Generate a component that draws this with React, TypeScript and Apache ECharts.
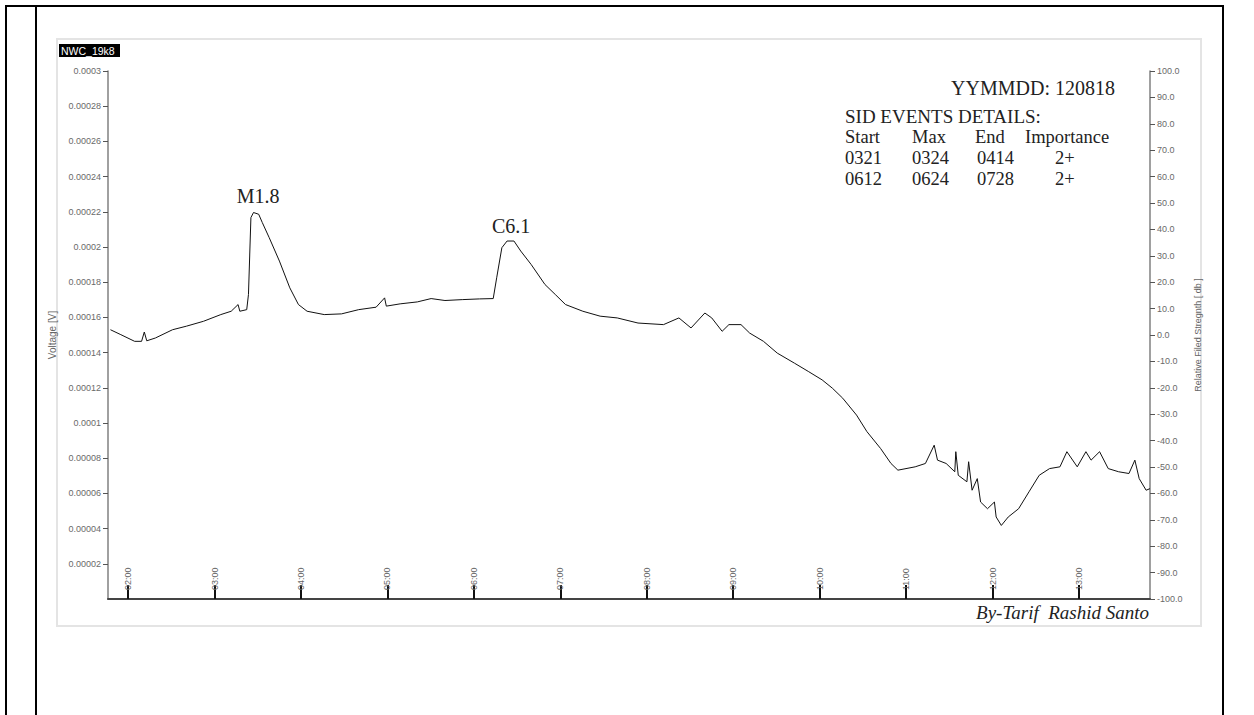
import React, { useEffect, useRef } from "react";
import * as echarts from "echarts";

// time of day in minutes after 00:00 (UT)
const timeMinutes = [
  107.7, 114.9, 124.5, 129.3, 131.2, 132.9, 138.9, 150.8, 160.4, 172.3,
  184.3, 191.5, 196.3, 197.5, 202.3, 203.5, 205.2, 207.0, 210.6, 213.1,
  217.9, 225.0, 232.2, 238.2, 244.2, 256.1, 268.1, 280.0, 292.1, 298.0,
  299.2, 308.8, 320.7, 330.3, 339.9, 351.9, 363.8, 373.4, 375.8, 379.4,
  383.0, 387.8, 392.5, 399.7, 409.3, 416.5, 423.6, 435.6, 447.6, 459.5,
  473.9, 491.6, 502.3, 510.7, 520.3, 525.1, 532.3, 537.0, 545.4, 551.4,
  561.0, 570.6, 582.5, 592.1, 601.7, 608.8, 616.0, 625.6, 632.8, 642.3,
  649.5, 654.3, 666.3, 673.4, 679.5, 681.8, 687.8, 693.8, 694.5, 696.2,
  702.2, 703.4, 705.8, 709.4, 711.7, 716.5, 721.3, 722.5, 726.1, 730.9,
  738.1, 745.3, 752.4, 759.6, 766.8, 771.6, 778.8, 784.8, 788.4, 794.3,
  800.3, 807.5, 814.7, 818.8, 821.8, 826.6, 829.3,
];

// signal voltage in microvolts
const voltageMicroV = [
  153.0, 150.2, 146.4, 146.4, 151.7, 146.7, 148.3, 153.0, 155.0, 157.8,
  161.6, 163.5, 167.3, 163.5, 164.4, 173.0, 216.7, 219.6, 218.6, 213.9,
  205.3, 192.0, 176.8, 167.3, 163.5, 161.6, 162.0, 164.4, 165.8, 171.1,
  166.4, 167.7, 168.8, 170.7, 169.6, 170.1, 170.5, 170.7, 182.5, 199.6,
  203.4, 203.4, 197.7, 190.1, 178.7, 173.0, 167.3, 163.5, 160.7, 159.7,
  156.8, 155.9, 159.7, 154.0, 162.5, 159.7, 152.1, 155.9, 155.9, 151.1,
  146.4, 139.7, 134.0, 129.3, 124.5, 119.8, 114.1, 104.5, 95.1, 85.5,
  77.0, 73.2, 75.1, 77.0, 87.4, 78.9, 77.0, 72.3, 83.7, 70.3,
  66.6, 78.0, 61.8, 68.4, 55.1, 51.3, 55.1, 46.6, 41.8, 46.6,
  51.3, 60.9, 70.3, 74.1, 75.1, 83.7, 75.1, 83.7, 78.9, 83.7,
  74.1, 72.3, 71.3, 78.9, 68.4, 61.8, 62.7,
];

const hourTicks = [120, 180, 240, 300, 360, 420, 480, 540, 600, 660, 720, 780];
const hourLabels = ["02:00", "03:00", "04:00", "05:00", "06:00", "07:00", "08:00", "09:00", "10:00", "11:00", "12:00", "13:00"];

const flareNames = ["M1.8", "C6.1"];
const flareTimes = [210.2, 385.8];
const flareLabelMicroV = [228.7, 211.9];

const stationLabel = "NWC_19k8";
const dateLabel = "YYMMDD: 120818";
const eventsTitle = "SID EVENTS DETAILS:";
const eventHeader = ["Start", "Max", "End", "Importance"];
const eventRows = [
  ["0321", "0324", "0414", "2+"],
  ["0612", "0624", "0728", "2+"],
];
const signature = "By-Tarif  Rashid Santo";

export default function App() {
  const ref = useRef<HTMLDivElement>(null);

  useEffect(() => {
    document.body.style.margin = "0";
    const chart = echarts.init(ref.current as HTMLDivElement, null, { renderer: "svg" });
    const serif = "'Liberation Serif', 'Times New Roman', serif";
    const sans = "'Liberation Sans', Arial, sans-serif";
    const narrow = "'Liberation Sans Narrow', 'Liberation Sans', Arial, sans-serif";

    const seriesData = timeMinutes.map((t, i) => [t, voltageMicroV[i] * 1e-6]);

    const colX = [845, 912, 975, 1025];
    const rowColX = [845, 912, 977, 1055];
    const headerY = 137;
    const rowY = [158, 179];
    const tableFont = `18.5px ${serif}`;

    const tableTexts: any[] = [];
    eventHeader.forEach((h, i) => {
      tableTexts.push({
        type: "text", x: colX[i], y: headerY,
        style: { text: h, fill: "#222", font: tableFont, textAlign: "left", textVerticalAlign: "middle" },
      });
    });
    eventRows.forEach((row, r) => {
      row.forEach((cell, i) => {
        tableTexts.push({
          type: "text", x: rowColX[i], y: rowY[r],
          style: { text: cell, fill: "#222", font: tableFont, textAlign: "left", textVerticalAlign: "middle" },
        });
      });
    });

    const option: any = {
      animation: false,
      backgroundColor: "#ffffff",
      grid: { left: 108, right: 104, top: 71, bottom: 116, containLabel: false, outerBoundsMode: "none" },
      xAxis: {
        type: "value",
        min: 106,
        max: 829.3,
        axisLine: { show: true, onZero: false, lineStyle: { color: "#444", width: 2 } },
        axisTick: { show: true, inside: true, length: 14, customValues: hourTicks, lineStyle: { color: "#111", width: 2 } },
        axisLabel: {
          show: true, inside: true, rotate: 90, margin: 9, customValues: hourTicks,
          formatter: (v: number) => {
            const k = hourTicks.indexOf(Math.round(v));
            return k >= 0 ? hourLabels[k] : "";
          },
          color: "#666", fontSize: 9, fontFamily: sans,
        },
        splitLine: { show: false },
      },
      yAxis: [
        {
          type: "value",
          position: "left",
          min: 0,
          max: 0.0003,
          interval: 0.00002,
          name: "Voltage [V]",
          nameLocation: "middle",
          nameGap: 34,
          nameTextStyle: { color: "#666", fontSize: 10, fontFamily: sans },
          axisLine: { show: true, lineStyle: { color: "#808080", width: 1.5 } },
          axisTick: { show: true, length: 5, lineStyle: { color: "#555", width: 1 } },
          axisLabel: {
            showMinLabel: false, margin: 7, color: "#6a6a6a", fontSize: 9, fontFamily: narrow,
            formatter: (v: number) => (v === 0 ? "" : String(Number(v.toPrecision(4)))),
          },
          splitLine: { show: false },
        },
        {
          type: "value",
          position: "right",
          min: -100,
          max: 100,
          interval: 10,
          name: "Relative Filed Stregnth [ db ]",
          nameLocation: "middle",
          nameGap: 35,
          nameTextStyle: { color: "#666", fontSize: 9, fontFamily: sans },
          axisLine: { show: true, lineStyle: { color: "#808080", width: 1.5 } },
          axisTick: { show: true, length: 5, lineStyle: { color: "#555", width: 1 } },
          axisLabel: {
            margin: 7, color: "#6a6a6a", fontSize: 9, fontFamily: narrow,
            formatter: (v: number) => v.toFixed(1),
          },
          splitLine: { show: false },
        },
      ],
      series: [
        {
          type: "line",
          yAxisIndex: 0,
          data: seriesData,
          showSymbol: false,
          symbol: "none",
          lineStyle: { color: "#111", width: 1 },
          markPoint: {
            symbol: "circle",
            symbolSize: 1,
            itemStyle: { color: "rgba(0,0,0,0)" },
            label: {
              show: true, position: "inside", formatter: "{b}",
              color: "#222", fontSize: 20, fontFamily: serif,
            },
            data: flareNames.map((n, i) => ({ name: n, coord: [flareTimes[i], flareLabelMicroV[i] * 1e-6] })),
          },
        },
      ],
      graphic: [
        // document table frame
        { type: "line", shape: { x1: 5, y1: 6, x2: 1224, y2: 6 }, style: { stroke: "#000", lineWidth: 2 } },
        { type: "line", shape: { x1: 6, y1: 5, x2: 6, y2: 715 }, style: { stroke: "#000", lineWidth: 2 } },
        { type: "line", shape: { x1: 36, y1: 6, x2: 36, y2: 715 }, style: { stroke: "#000", lineWidth: 2 } },
        { type: "line", shape: { x1: 1223, y1: 5, x2: 1223, y2: 715 }, style: { stroke: "#000", lineWidth: 2 } },
        // screenshot panel
        { type: "rect", shape: { x: 57, y: 39, width: 1144, height: 587 }, style: { fill: "none", stroke: "#e4e4e4", lineWidth: 2 }, z: -1 },
        // station tag
        { type: "rect", shape: { x: 59, y: 44, width: 61, height: 13 }, style: { fill: "#000" } },
        { type: "text", x: 61, y: 50.5, style: { text: stationLabel, fill: "#fff", font: `10.5px ${sans}`, textAlign: "left", textVerticalAlign: "middle" } },
        // date and event table
        { type: "text", x: 1115, y: 88.3, style: { text: dateLabel, fill: "#222", font: `20px ${serif}`, textAlign: "right", textVerticalAlign: "middle" } },
        { type: "text", x: 845, y: 116, style: { text: eventsTitle, fill: "#222", font: `19px ${serif}`, textAlign: "left", textVerticalAlign: "middle" } },
        ...tableTexts,
        // signature
        { type: "text", x: 1149, y: 612.5, style: { text: signature, fill: "#222", font: `italic 19px ${serif}`, textAlign: "right", textVerticalAlign: "middle" } },
      ],
    };

    chart.setOption(option);
    return () => chart.dispose();
  }, []);

  return <div ref={ref} style={{ position: "absolute", left: 0, top: 0, width: 1254, height: 715 }} />;
}
